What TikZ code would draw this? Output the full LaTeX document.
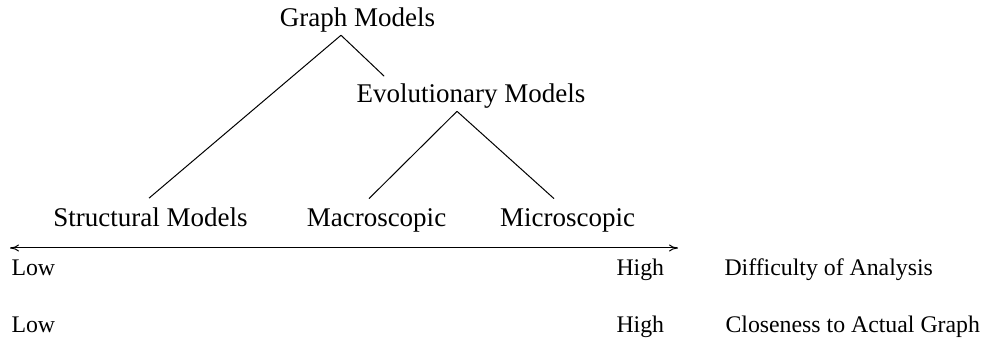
\documentclass[tikz,border=0pt]{standalone}
\usepackage{fontspec}
\setmainfont{Liberation Serif}
\usetikzlibrary{arrows.meta}
\begin{document}
\begin{tikzpicture}[
	                 x = 0.5pt,
	                 y = -0.5pt,
	        line width = 0.5pt,
	                 > = {To[length=4.5pt,width=3.5pt]},
	        txt/.style = {font=\fontsize{13.5}{16}\selectfont, inner sep=0pt, anchor=base},
	    axistxt/.style = {font=\fontsize{11.9}{14}\selectfont, inner sep=0pt, anchor=base west},
	                   ]
	    \useasboundingbox (0,0) rectangle (994,341);
		% model tree
		\node[txt] (graph)  at (357.5,27) {Graph Models};
		\node[txt] (evol)   at (471,103)  {Evolutionary Models};
		\node[txt] (struct) at (150.5,227) {Structural Models};
		\node[txt] (macro)  at (376.5,227) {Macroscopic};
		\node[txt] (micro)  at (567.5,227) {Microscopic};
		\coordinate (graphfoot) at ([xshift=-8.25pt,yshift=-1pt]graph.south);
		\coordinate (evolfoot)  at ([xshift=-7pt,yshift=-1pt]evol.south);
		\draw (graphfoot) -- ([xshift=-0.75pt,yshift=4.8pt]struct.north);
		\draw (graphfoot) -- ([xshift=14pt,yshift=3.8pt]evol.north west);
		\draw (evolfoot) -- ([xshift=-3.75pt,yshift=5pt]macro.north);
		\draw (evolfoot) -- ([xshift=-6.75pt,yshift=5pt]micro.north);
		% scale
		\coordinate (lowend)  at (10,248);
		\coordinate (highend) at (678,248);
		\draw[<->] (lowend) -- (highend);
		\node[axistxt] (low1)  at (11,276)  {Low};
		\node[axistxt] (high1) at (616,276) {High};
		\node[axistxt] (diff)  at (724,276) {Difficulty of Analysis};
		\node[axistxt] (low2)  at (11,332)  {Low};
		\node[axistxt] (high2) at (616,332) {High};
		\node[axistxt] (close) at (725,332) {Closeness to Actual Graph};
	\end{tikzpicture}
\end{document}
